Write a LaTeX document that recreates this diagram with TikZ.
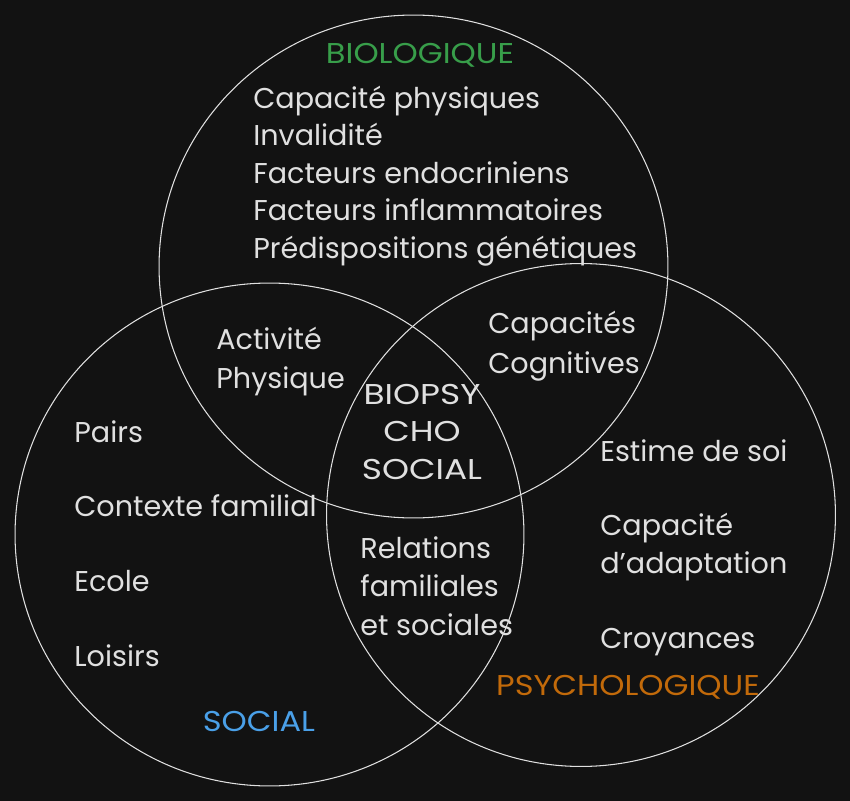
\documentclass[tikz,border=0pt]{standalone}
\usepackage{fontspec}
\setmainfont{Poppins}
\usepackage{tikz}
\usetikzlibrary{positioning}
\definecolor{canvasbg}{RGB}{18,18,18}
\definecolor{inkgray}{RGB}{224,224,224}
\colorlet{ringdraw}{inkgray}
\definecolor{biogreen}{RGB}{56,158,74}
\definecolor{socialblue}{RGB}{74,160,232}
\definecolor{psyorange}{RGB}{194,106,10}

\begin{document}
\begin{tikzpicture}[x=0.02cm, y=-0.02cm, every node/.style={font=\fontsize{16.3}{21.3}\selectfont, text=inkgray, inner sep=0pt}, capsword/.style={xscale=1.2}, headword/.style={xscale=1.12}]
        \fill[canvasbg] (0,0) rectangle (850,801);
        \useasboundingbox (0,0) rectangle (850,801);
        % the three rings
        \draw[ringdraw,line width=0.6pt] (413.5,266.5) ellipse [x radius=5.09cm, y radius=5.03cm];
        \draw[ringdraw,line width=0.6pt] (269.5,534.5) ellipse [x radius=5.09cm, y radius=5.03cm];
        \draw[ringdraw,line width=0.6pt] (581,515) ellipse [x radius=5.09cm, y radius=5.03cm];
        % biologique
        \node[text=biogreen,headword,anchor=base] (bio) at (420,63) {BIOLOGIQUE};
        \node[align=left,anchor=base west] (bioList) at (253,258) {Capacité physiques\\Invalidité\\Facteurs endocriniens\\Facteurs inflammatoires\\Prédispositions génétiques};
        % overlaps
        \node[align=left,anchor=base west,font=\fontsize{16.3}{22}\selectfont] (bioSoc) at (216,388) {Activité\\Physique};
        \node[align=left,anchor=base west,font=\fontsize{16.3}{22.2}\selectfont] (bioPsy) at (488,373) {Capacités\\Cognitives};
        \node[align=center,capsword,anchor=base] (core) at (422,479) {BIOPSY\\CHO\\SOCIAL};
        \node[align=left,anchor=base west,font=\fontsize{16.3}{21.8}\selectfont] (socPsy) at (360,635) {Relations\\familiales\\et sociales};
        % social
        \node[anchor=base west] (pairs) at (74,442) {Pairs};
        \node[below=1.5cm of pairs.base west,anchor=base west] (famille) {Contexte familial};
        \node[below=1.5cm of famille.base west,anchor=base west] (ecole) {Ecole};
        \node[below=1.5cm of ecole.base west,anchor=base west] (loisirs) {Loisirs};
        \node[text=socialblue,headword,anchor=base] (social) at (259,731) {SOCIAL};
        % psychologique
        \node[anchor=base west] (estime) at (600,461) {Estime de soi};
        \node[align=left,anchor=base west] (adapt) at (600,573) {Capacité\\d'adaptation};
        \node[anchor=base west] (croyances) at (600,648) {Croyances};
        \node[text=psyorange,headword,anchor=base] (psy) at (628,695) {PSYCHOLOGIQUE};
      \end{tikzpicture}
\end{document}
